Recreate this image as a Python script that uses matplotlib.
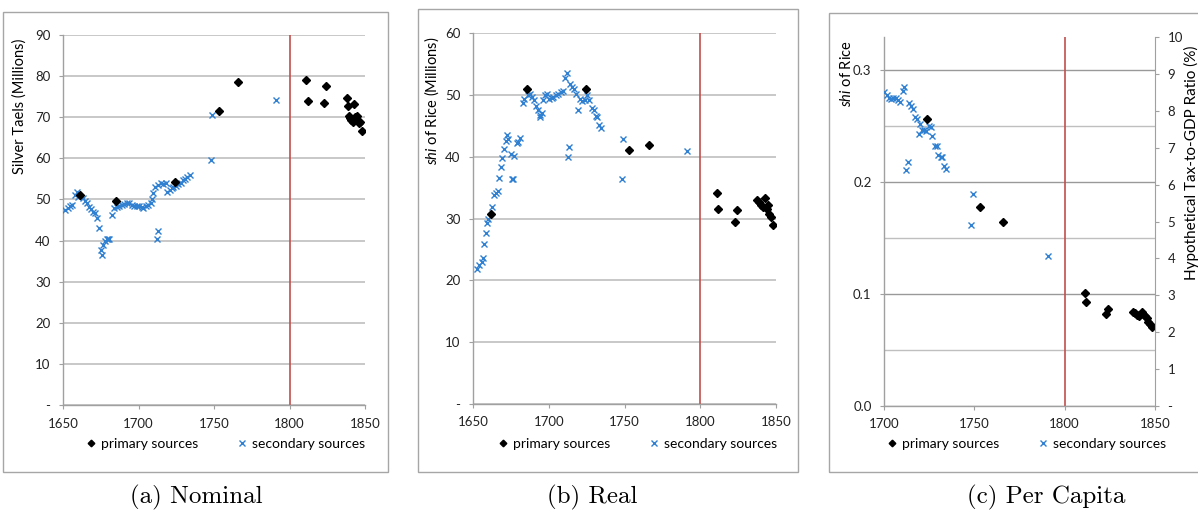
#!/usr/bin/env python3
import matplotlib
matplotlib.use("Agg")
import matplotlib.pyplot as plt
from matplotlib.patches import Rectangle
from matplotlib.ticker import FixedLocator, FuncFormatter

plt.rcParams['font.family'] = ['Lato', 'DejaVu Sans']
plt.rcParams['mathtext.fontset'] = 'custom'
plt.rcParams['mathtext.it'] = 'Lato:italic'
plt.rcParams['mathtext.rm'] = 'Lato'

W, H = 1198, 511

# (a) nominal, silver taels (millions)
a_pri_year = [1661, 1685, 1724, 1753, 1766, 1811, 1812, 1823, 1824, 1838, 1838.5, 1839.4,
              1839.8, 1841, 1842, 1842.5, 1843.6, 1844.5, 1846, 1847, 1848]
a_pri_val = [51.0, 49.6, 54.2, 71.6, 78.5, 79.0, 74.0, 73.5, 77.6, 74.6, 72.7, 70.3,
             69.8, 69.3, 68.8, 73.1, 70.0, 70.3, 68.5, 68.9, 66.7]
a_sec_year = [1651, 1653, 1654.6, 1655.7, 1658, 1659, 1660.2, 1663, 1664.6, 1665.7, 1667.4,
              1668.5, 1670, 1671.2, 1672.7, 1674, 1675.2, 1675.8, 1676.7, 1677.8, 1678.9,
              1679.8, 1680.7, 1682.2, 1683.8, 1685.6, 1687.3, 1688.9, 1690.4, 1692.2, 1693.9,
              1695.5, 1697, 1698.8, 1700.5, 1702.1, 1703.2, 1705, 1706.5, 1708.1, 1709.2,
              1709.8, 1710.9, 1712, 1712.7, 1713.1, 1714.7, 1716.4, 1718.2, 1719.1, 1720.9,
              1722.2, 1723, 1724.8, 1726.4, 1727.9, 1729.3, 1730.8, 1732.3, 1734.1,
              1748, 1748.7, 1791]
a_sec_val = [47.4, 47.8, 48.4, 48.7, 51.1, 51.9, 50.7, 50.3, 49.5, 49.2, 48.2,
             47.6, 47.0, 46.6, 45.4, 43.0, 37.7, 36.5, 38.9, 40.0, 40.3,
             40.4, 40.3, 46.2, 47.8, 48.2, 48.4, 48.7, 48.9, 49.2, 49.2,
             48.7, 48.4, 48.4, 48.4, 48.2, 47.8, 48.4, 48.7, 49.1, 50.0,
             51.6, 53.1, 40.3, 42.4, 53.5, 53.9, 53.8, 54.1, 51.9, 52.3,
             52.7, 53.1, 53.3, 53.7, 54.1, 54.7, 55.0, 55.5, 55.9,
             59.6, 70.5, 74.2]

# (b) real, shi of rice (millions)
b_pri_year = [1662, 1685.4, 1724.3, 1753, 1766, 1811, 1812, 1823, 1824, 1837.7, 1838.8,
              1839.9, 1841.2, 1842.7, 1843.9, 1845, 1845.6, 1846.5, 1847.8]
b_pri_val = [30.8, 51.0, 51.0, 41.1, 41.9, 34.2, 31.6, 29.5, 31.4, 33.0, 32.6,
             32.2, 31.8, 33.3, 31.5, 32.2, 30.8, 30.3, 29.0]
b_sec_year = [1652.4, 1654.2, 1655.7, 1656.8, 1657.5, 1658.4, 1659.5, 1660.1, 1662.8,
              1663.9, 1665.2, 1666.7, 1667.4, 1668.5, 1669.3, 1670.5, 1671.6, 1672.2,
              1672.9, 1674.9, 1675.9, 1676.6, 1677.3, 1678.8, 1679.9, 1681, 1682.8,
              1683.9, 1686.5, 1687.6, 1688.7, 1690.5, 1691.6, 1693.1, 1694, 1694.2,
              1695.3, 1696, 1697.5, 1699, 1700.3, 1701.9, 1703, 1704.8, 1706.3, 1707.9,
              1709.2, 1710.7, 1711.8, 1712.5, 1713.4, 1714, 1715.6, 1716.7, 1718,
              1719.1, 1720.6, 1722.2, 1723.9, 1725.4, 1726.8, 1728.3, 1729.9, 1731,
              1732, 1733.2, 1734.4, 1748.3, 1749.2, 1791]
b_sec_val = [21.8, 22.5, 23.0, 23.6, 25.9, 27.6, 29.3, 29.9, 31.9,
             33.8, 34.2, 34.4, 36.5, 38.3, 39.8, 41.2, 42.5, 43.5,
             42.9, 40.4, 36.4, 36.4, 40.1, 42.2, 42.4, 43.0, 48.7,
             49.3, 50.0, 50.2, 49.7, 49.1, 48.2, 47.5, 46.4, 46.7,
             47.1, 49.2, 50.0, 50.2, 49.4, 49.5, 49.7, 50.0, 50.2, 50.4,
             50.7, 52.7, 53.6, 40.0, 41.5, 51.8, 51.3, 50.9, 50.1,
             47.6, 49.4, 49.0, 49.2, 50.0, 49.2, 47.8, 47.6, 46.6,
             46.4, 45.1, 44.6, 36.4, 42.9, 40.9]

# (c) per capita, shi of rice
c_pri_year = [1724, 1753, 1766, 1811, 1812, 1822.7, 1824.2, 1837.6, 1838.9, 1840.2,
              1841.3, 1842.6, 1843.5, 1844.5, 1845.4, 1846.3, 1847.2, 1848.3]
c_pri_val = [0.256, 0.178, 0.1646, 0.1006, 0.0926, 0.0819, 0.0866, 0.0842, 0.0827, 0.0812,
             0.0806, 0.0836, 0.0820, 0.0804, 0.0783, 0.0753, 0.0732, 0.0708]
c_sec_year = [1700, 1701.5, 1702.8, 1703.9, 1705.2, 1706.5, 1707.6, 1708.9, 1710.4, 1711.1,
              1712.2, 1713.2, 1714.1, 1715, 1716, 1717.2, 1718.2, 1719.1, 1720, 1721.3,
              1722.4, 1723.2, 1724.9, 1725.9, 1726.8, 1728.3, 1729.2, 1730.1, 1731.4,
              1732.3, 1733.2, 1734.1, 1748, 1749.1, 1790.9]
c_sec_val = [0.2801, 0.2777, 0.2753, 0.2738, 0.2753, 0.2747, 0.2732, 0.2717, 0.2815, 0.2851,
             0.2107, 0.2182, 0.2708, 0.2679, 0.2649, 0.2583, 0.2560, 0.2429, 0.2518, 0.2464,
             0.2464, 0.2458, 0.2500, 0.2488, 0.2411, 0.2324, 0.2324, 0.2241, 0.2226,
             0.2220, 0.2146, 0.2113, 0.1616, 0.1893, 0.1342]

PRI_COLOR = 'black'
SEC_COLOR = '#2f80d0'
RED = '#c0504d'
GRID = '#bfbfbf'
FRAME = '#a6a6a6'
TICK_FS = 9.5
LABEL_FS = 10.5


def px_rect(left, top, right, bottom):
    return [left / W, 1 - bottom / H, (right - left) / W, (bottom - top) / H]


def dash_zero(fmt):
    return FuncFormatter(lambda v, p: '-' if abs(v) < 1e-9 else fmt.format(v))


def style_axes(ax):
    for s in ['top', 'right']:
        ax.spines[s].set_visible(False)
    for s in ['left', 'bottom']:
        ax.spines[s].set_color('#a0a0a0')
        ax.spines[s].set_linewidth(1.0)
    ax.tick_params(axis='both', direction='out', length=3, width=0.8, color='#a0a0a0',
                   labelsize=TICK_FS, labelcolor='#222222', pad=6)
    ax.set_axisbelow(True)


def draw_points(ax, px, py, sx, sy):
    ax.plot(px, py, linestyle='none', marker='D', markersize=4.2, color=PRI_COLOR,
            label='primary sources', zorder=4)
    ax.plot(sx, sy, linestyle='none', marker='x', markersize=5, markeredgewidth=1.0,
            color=SEC_COLOR, label='secondary sources', zorder=3)
    ax.axvline(1800, color=RED, linewidth=1.2, zorder=2)


def add_legend(fig, ax, cx, cy):
    fig.legend(*ax.get_legend_handles_labels(), loc='center', ncol=2, frameon=False,
               bbox_to_anchor=(cx / W, 1 - cy / H), fontsize=10, handletextpad=0.1,
               columnspacing=2.6, handlelength=1.2, markerscale=0.8)


fig = plt.figure(figsize=(W / 100, H / 100), dpi=100)

# panel frames
for l, t, r, b in [(3, 12, 388, 472), (418, 9, 798, 472), (829, 13, 1210, 472)]:
    fig.patches.append(Rectangle((l / W, 1 - b / H), (r - l) / W, (b - t) / H,
                                 transform=fig.transFigure, fill=False,
                                 edgecolor=FRAME, linewidth=1.0))

# ---- (a) ----
ax1 = fig.add_axes(px_rect(63, 35, 365, 405))
style_axes(ax1)
draw_points(ax1, a_pri_year, a_pri_val, a_sec_year, a_sec_val)
ax1.set_xlim(1650, 1850)
ax1.set_ylim(0, 90)
ax1.set_xticks([1650, 1700, 1750, 1800, 1850])
ax1.set_yticks(range(0, 91, 10))
ax1.yaxis.set_major_formatter(dash_zero('{:.0f}'))
ax1.grid(axis='y', color=GRID, linewidth=1.2)
fig.text(19.5 / W, 1 - 106 / H, 'Silver Taels (Millions)', rotation=90,
         ha='center', va='center', fontsize=LABEL_FS)
add_legend(fig, ax1, 224, 444)

# ---- (b) ----
ax2 = fig.add_axes(px_rect(473, 33, 776, 404))
style_axes(ax2)
draw_points(ax2, b_pri_year, b_pri_val, b_sec_year, b_sec_val)
ax2.set_xlim(1650, 1850)
ax2.set_ylim(0, 60)
ax2.set_xticks([1650, 1700, 1750, 1800, 1850])
ax2.set_yticks(range(0, 61, 10))
ax2.yaxis.set_major_formatter(dash_zero('{:.0f}'))
ax2.grid(axis='y', color=GRID, linewidth=1.2)
fig.text(432 / W, 1 - 101 / H, r'$\mathit{shi}$ of Rice (Millions)', rotation=90,
         ha='center', va='center', fontsize=LABEL_FS)
add_legend(fig, ax2, 636, 444)

# ---- (c) ----
ax3 = fig.add_axes(px_rect(884, 37, 1155, 406))
style_axes(ax3)
draw_points(ax3, c_pri_year, c_pri_val, c_sec_year, c_sec_val)
ax3.set_xlim(1700, 1850)
ax3.set_ylim(0, 0.3295)
ax3.set_xticks([1700, 1750, 1800, 1850])
ax3.set_yticks([0.0, 0.1, 0.2, 0.3])
ax3.yaxis.set_major_formatter(FuncFormatter(lambda v, p: '{:.1f}'.format(v)))
ax3.yaxis.set_minor_locator(FixedLocator([0.05, 0.15, 0.25]))
ax3.tick_params(axis='y', which='minor', length=0)
ax3.grid(axis='y', which='major', color='#999999', linewidth=1.0)
ax3.grid(axis='y', which='minor', color=GRID, linewidth=1.0)
fig.text(847 / W, 1 - 74 / H, r'$\mathit{shi}$ of Rice', rotation=90,
         ha='center', va='center', fontsize=LABEL_FS)

ax3r = ax3.twinx()
ax3r.set_ylim(0, 10)
ax3r.set_yticks(range(0, 11))
ax3r.yaxis.set_major_formatter(dash_zero('{:.0f}'))
for s in ['top', 'left', 'bottom']:
    ax3r.spines[s].set_visible(False)
ax3r.spines['right'].set_color('#a0a0a0')
ax3r.tick_params(axis='y', direction='out', length=3, width=0.8, color='#a0a0a0',
                 labelsize=TICK_FS, labelcolor='#222222', pad=6)
fig.text(1191 / W, 1 - 163 / H, 'Hypothetical Tax-to-GDP Ratio (%)', rotation=90,
         ha='center', va='center', fontsize=11)
add_legend(fig, ax3, 1025, 444)

# captions
for cx, txt in [(196, '(a) Nominal'), (592, '(b) Real'), (1046, '(c) Per Capita')]:
    fig.text(cx / W, 1 - 497 / H, txt, ha='center', va='center',
             fontsize=18, family='cmr10')

fig.savefig('out.png', dpi=100)
